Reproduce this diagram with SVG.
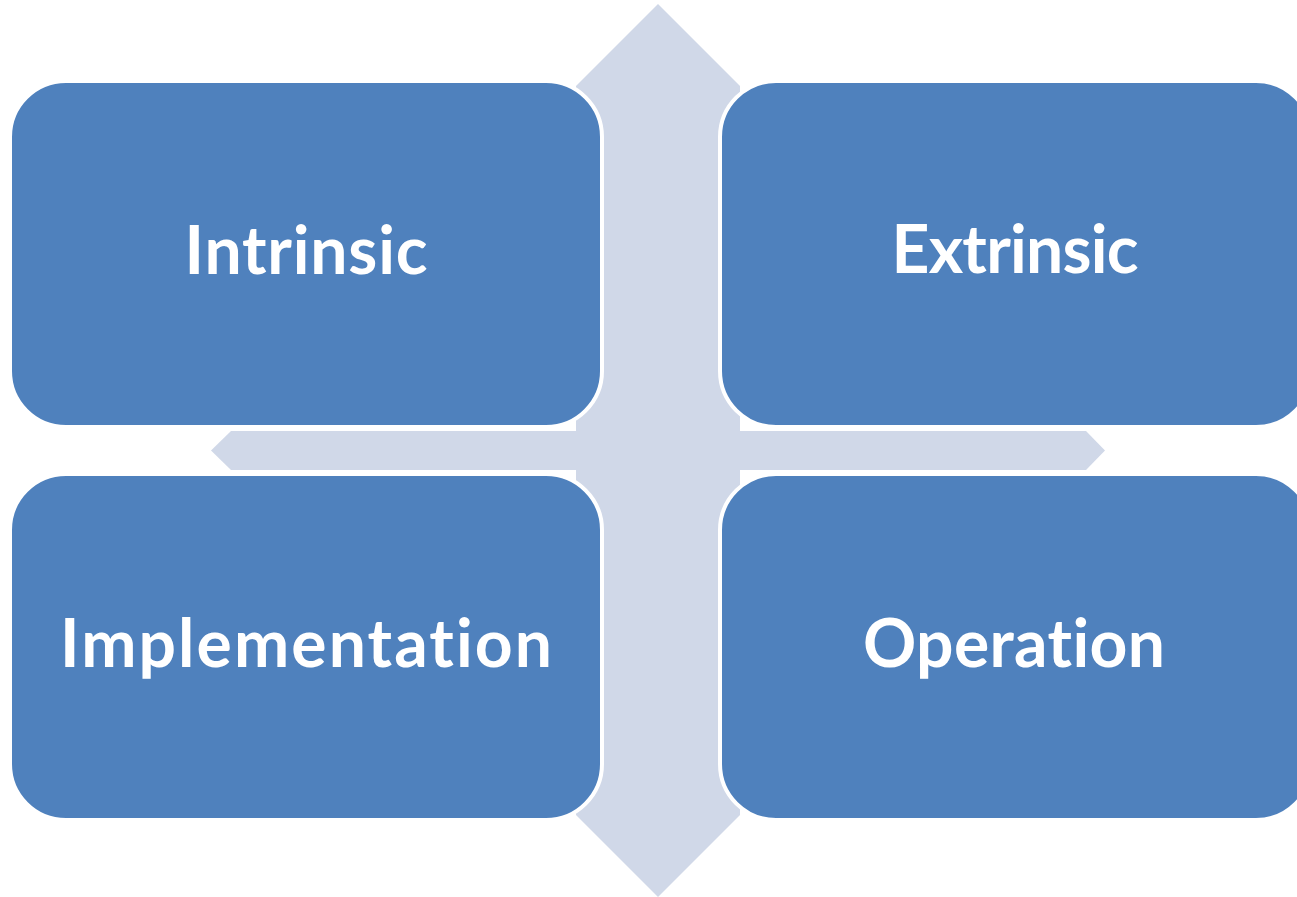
<svg xmlns="http://www.w3.org/2000/svg" width="1297" height="897" viewBox="0 0 1297 897">
<style>
.arrow{fill:#D0D8E8;}
.box{fill:#4F81BD;stroke:#FFFFFF;stroke-width:4;}
.lbl{font-family:"Lato","Open Sans","Liberation Sans",sans-serif;font-weight:bold;font-size:66px;fill:#FFFFFF;text-anchor:middle;font-variant-ligatures:none;font-feature-settings:"liga" 0,"clig" 0;}
</style>
<rect width="1297" height="897" fill="#FFFFFF"/>
<g id="connectors">
<polygon class="arrow" points="658,4 740,86 740,815 658,897 576,815 576,86"/>
<polygon class="arrow" points="211,450.5 231,431 1086,431 1105,450.5 1086,470 231,470"/>
</g>
<g id="node-intrinsic">
<rect class="box" x="10" y="81" width="592" height="346" rx="56" ry="56"/>
<text class="lbl" x="306" y="274" textLength="243">Intrinsic</text>
</g>
<g id="node-extrinsic">
<rect class="box" x="720" y="81" width="592" height="346" rx="56" ry="56"/>
<text class="lbl" x="1015" y="273" textLength="247">Extrinsic</text>
</g>
<g id="node-implementation">
<rect class="box" x="10" y="474" width="592" height="346" rx="56" ry="56"/>
<text class="lbl" x="306" y="667" textLength="492">Implementation</text>
</g>
<g id="node-operation">
<rect class="box" x="720" y="474" width="592" height="346" rx="56" ry="56"/>
<text class="lbl" x="1014" y="667" textLength="302">Operation</text>
</g>
</svg>
